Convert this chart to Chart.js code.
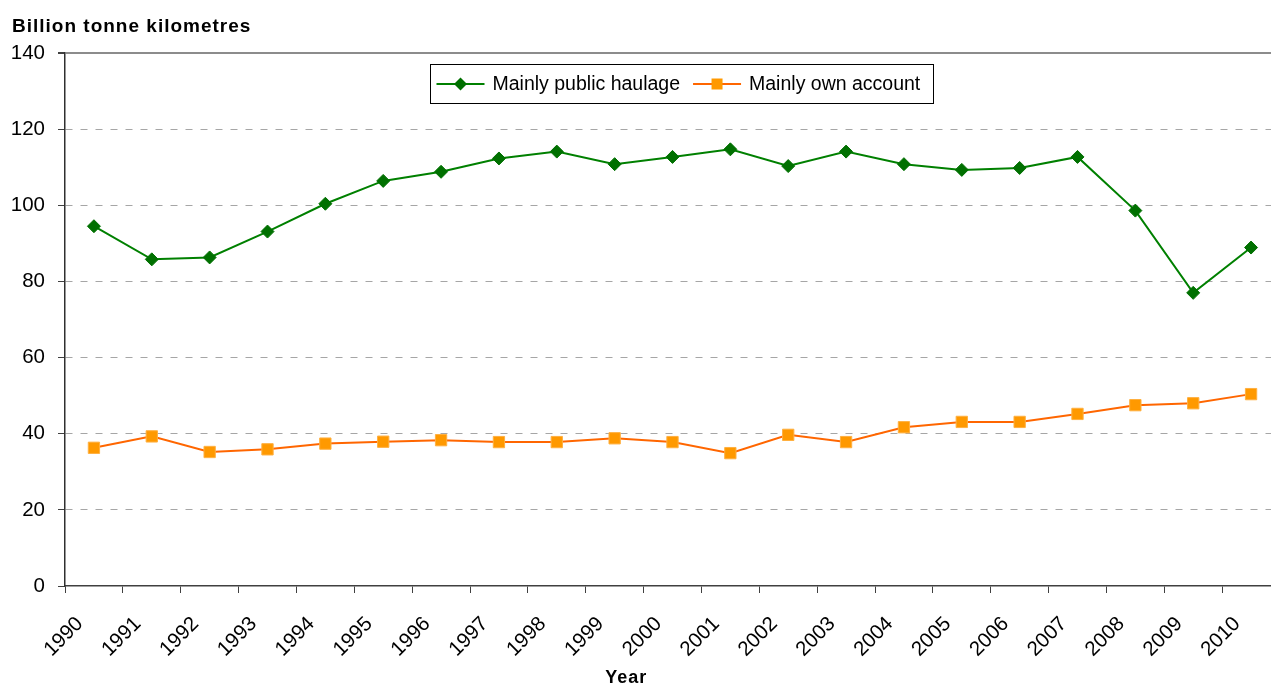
<!DOCTYPE html>
<html>
<head>
<meta charset="utf-8">
<script src="https://cdn.jsdelivr.net/npm/chart.js@4.4.0/dist/chart.umd.min.js"></script>
<style>
    html, body { margin: 0; padding: 0; background: #ffffff; overflow: hidden; }
    #freightChart { display: block; }
</style>
</head>
<body>
<canvas id="freightChart" width="1289" height="684"></canvas>
<script>
// Road freight moved, billion tonne kilometres
const years = ['1990', '1991', '1992', '1993', '1994', '1995', '1996', '1997', '1998', '1999', '2000',
               '2001', '2002', '2003', '2004', '2005', '2006', '2007', '2008', '2009', '2010'];
const publicHaulage = [94.5, 85.8, 86.3, 93.1, 100.4, 106.4, 108.8, 112.3, 114.1, 110.8, 112.7,
                       114.7, 110.3, 114.1, 110.8, 109.3, 109.8, 112.7, 98.6, 77.0, 88.9];
const ownAccount = [36.3, 39.3, 35.2, 35.9, 37.4, 37.9, 38.3, 37.8, 37.8, 38.8, 37.8,
                    34.9, 39.7, 37.8, 41.7, 43.1, 43.1, 45.2, 47.5, 48.0, 50.4];
const yTicks = [0, 20, 40, 60, 80, 100, 120, 140];

const FONT = '"Liberation Sans", Arial, sans-serif';

// Draws the chart title, the x axis title and the boxed legend inside the plot
const extrasPlugin = {
    id: 'extras',
    afterDraw(chart) {
        const ctx = chart.ctx;
        const area = chart.chartArea;
        ctx.save();

        // Title top left
        ctx.fillStyle = '#000000';
        ctx.font = 'bold 19px ' + FONT;
        ctx.letterSpacing = '1px';
        ctx.textAlign = 'left';
        ctx.textBaseline = 'alphabetic';
        ctx.fillText('Billion tonne kilometres', 12, 32);

        // Axis title
        ctx.font = 'bold 18px ' + FONT;
        ctx.letterSpacing = '1px';
        ctx.textAlign = 'center';
        ctx.fillText('Year', area.left + area.width * 0.462, 683);
        ctx.letterSpacing = '0px';

        // Legend with line + marker symbols
        ctx.font = '19.5px ' + FONT;
        const sets = chart.data.datasets;
        const symW = 48, textGap = 8, itemGap = 13, padL = 6, padR = 13;
        const widths = sets.map(ds => ctx.measureText(ds.label).width);
        let boxW = padL + padR + itemGap * (sets.length - 1);
        widths.forEach(w => boxW += symW + textGap + w);
        const boxH = 39;
        const left = Math.round((area.left + area.right) / 2 + 9 - boxW / 2) + 0.5;
        const top = area.top + 11.5;
        const midY = top + boxH / 2;

        ctx.strokeStyle = '#000000';
        ctx.lineWidth = 1;
        ctx.strokeRect(left, top, Math.round(boxW), boxH);

        let x = left + padL;
        sets.forEach((ds, i) => {
            ctx.strokeStyle = ds.borderColor;
            ctx.lineWidth = 2;
            ctx.beginPath();
            ctx.moveTo(x, midY);
            ctx.lineTo(x + symW, midY);
            ctx.stroke();
            const cx = x + symW / 2;
            ctx.fillStyle = ds.pointBackgroundColor;
            ctx.beginPath();
            if (ds.pointStyle === 'rectRot') {
                ctx.moveTo(cx, midY - 6.5);
                ctx.lineTo(cx + 6.5, midY);
                ctx.lineTo(cx, midY + 6.5);
                ctx.lineTo(cx - 6.5, midY);
                ctx.closePath();
            } else {
                ctx.rect(cx - 5.5, midY - 5.5, 11, 11);
            }
            ctx.fill();
            x += symW + textGap;
            ctx.fillStyle = '#000000';
            ctx.textAlign = 'left';
            ctx.textBaseline = 'middle';
            ctx.fillText(ds.label, x, midY + 1);
            x += widths[i] + itemGap;
        });

        ctx.restore();
    }
};

const ctx = document.getElementById('freightChart').getContext('2d');

new Chart(ctx, {
    type: 'line',
    data: {
        labels: years,
        datasets: [
            {
                label: 'Mainly public haulage',
                data: publicHaulage,
                borderColor: '#008000',
                backgroundColor: '#007000',
                pointBackgroundColor: '#007000',
                pointBorderColor: '#007000',
                pointStyle: 'rectRot',
                pointRadius: 6.5,
                pointBorderWidth: 1,
                borderWidth: 2,
                tension: 0
            },
            {
                label: 'Mainly own account',
                data: ownAccount,
                borderColor: '#FF6600',
                backgroundColor: '#FF9900',
                pointBackgroundColor: '#FF9900',
                pointBorderColor: '#FFB040',
                pointStyle: 'rect',
                pointRadius: 8,
                pointBorderWidth: 1,
                borderWidth: 2,
                tension: 0
            }
        ]
    },
    options: {
        responsive: false,
        animation: false,
        devicePixelRatio: 1,
        layout: {
            padding: { top: 53, left: 10, right: 1, bottom: 0 }
        },
        plugins: {
            legend: { display: false },
            title: { display: false },
            tooltip: { enabled: false }
        },
        scales: {
            x: {
                type: 'category',
                offset: true,
                afterFit: function(scale) { scale.height = 98; },
                grid: {
                    offset: true,
                    drawOnChartArea: false,
                    drawTicks: true,
                    tickLength: 7,
                    tickColor: '#404040',
                    tickWidth: 1
                },
                border: { display: true, color: '#404040', width: 1.5 },
                ticks: {
                    autoSkip: false,
                    maxRotation: 45,
                    minRotation: 45,
                    padding: 19,
                    labelOffset: -14,
                    color: '#000000',
                    font: { family: FONT, size: 20.5 }
                }
            },
            y: {
                min: 0,
                max: 140,
                afterFit: function(scale) { scale.width = 55; },
                afterBuildTicks: function(scale) {
                    scale.ticks = yTicks.map(v => ({ value: v }));
                },
                grid: {
                    color: function(c) {
                        if (c.tick.value === 0) return 'rgba(0,0,0,0)';
                        return c.tick.value === 140 ? '#8c8c8c' : '#a6a6a6';
                    },
                    lineWidth: function(c) { return c.tick.value === 140 ? 2 : 1; },
                    drawTicks: true,
                    tickLength: 7,
                    tickColor: '#404040',
                    tickBorderDash: []
                },
                border: {
                    display: true,
                    color: '#303030',
                    width: 1.5,
                    dash: function(c) { return (c.tick && c.tick.value === 140) ? [] : [7, 8]; }
                },
                ticks: {
                    padding: 13,
                    color: '#000000',
                    font: { family: FONT, size: 20.5 }
                }
            }
        }
    },
    plugins: [extrasPlugin]
});
</script>
</body>
</html>
